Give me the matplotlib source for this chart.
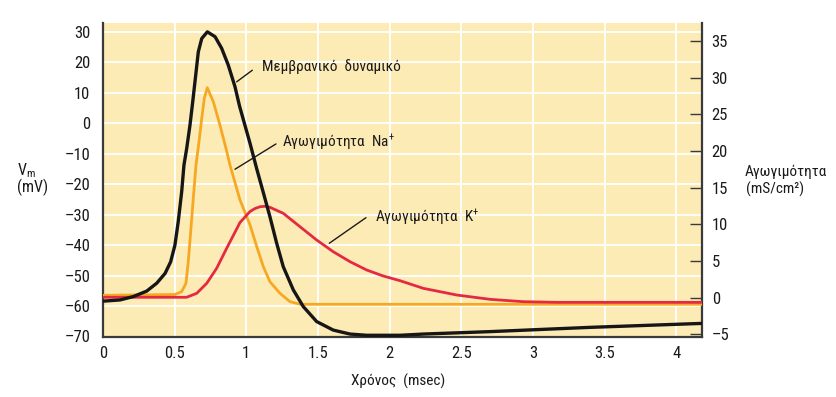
import matplotlib
matplotlib.use("Agg")
import matplotlib.pyplot as plt
import matplotlib.font_manager as fm

# ---- data ----
# Membrane potential (left axis, mV)
t_vm = [0.000, 0.119, 0.211, 0.305, 0.375, 0.433, 0.472, 0.502, 0.525, 0.549,
        0.565, 0.584, 0.607, 0.626, 0.647, 0.665, 0.689, 0.728, 0.782, 0.828,
        0.874, 0.921, 0.953, 1.026, 1.073, 1.119, 1.165, 1.212, 1.258, 1.328,
        1.398, 1.491, 1.607, 1.724, 1.840, 2.073, 2.235, 2.701, 3.399, 4.180]
vm = [-58.4, -58.0, -56.9, -55.1, -52.5, -49.3, -45.5, -40.0, -32.3, -22.5,
      -13.7, -8.3, -0.6, 7.0, 15.8, 23.4, 27.8, 30.0, 28.4, 24.6,
      19.1, 12.0, 5.6, -6.6, -15.0, -22.8, -30.7, -39.4, -47.1, -54.7,
      -60.2, -65.1, -67.9, -69.2, -69.6, -69.6, -69.2, -68.4, -67.0, -65.7]

# Na+ conductance (right axis, mS/cm^2)
t_na = [0.000, 0.502, 0.549, 0.579, 0.595, 0.612, 0.630, 0.649, 0.670, 0.689,
        0.707, 0.728, 0.770, 0.816, 0.858, 0.886, 0.956, 1.026, 1.073, 1.119,
        1.165, 1.235, 1.305, 1.375, 4.180]
g_na = [0.32, 0.43, 0.81, 1.96, 4.90, 8.99, 13.55, 18.09, 21.27, 24.46,
        27.19, 28.63, 26.72, 23.54, 20.37, 18.09, 13.32, 9.91, 6.95, 4.22,
        2.17, 0.59, -0.55, -0.91, -0.91]

# K+ conductance (right axis, mS/cm^2)
t_k = [0.000, 0.584, 0.654, 0.724, 0.793, 0.863, 0.956, 1.026, 1.061, 1.096,
       1.130, 1.165, 1.258, 1.375, 1.491, 1.607, 1.724, 1.840, 1.956, 2.073,
       2.235, 2.468, 2.701, 2.933, 3.166, 3.399, 4.180]
g_k = [0.05, 0.05, 0.59, 1.96, 4.00, 6.73, 10.25, 11.75, 12.16, 12.40,
       12.46, 12.32, 11.50, 9.67, 7.86, 6.26, 4.90, 3.77, 2.95, 2.31,
       1.27, 0.36, -0.23, -0.55, -0.64, -0.64, -0.64]

x_ticks = [0, 0.5, 1, 1.5, 2, 2.5, 3, 3.5, 4]
x_ticklabels = ["0", "0.5", "1", "1.5", "2", "2.5", "3", "3.5", "4"]
vm_ticks = [-70, -60, -50, -40, -30, -20, -10, 0, 10, 20, 30]
g_ticks = [-5, 0, 5, 10, 15, 20, 25, 30, 35]


# ---- font: prefer a condensed sans if one is installed ----
def pick_font():
    ttf = fm.fontManager.ttflist
    names = {f.name for f in ttf}
    for p in ["Liberation Sans Narrow", "Roboto Condensed", "Open Sans Condensed",
              "Noto Sans Condensed", "DejaVu Sans Condensed", "Inter Condensed"]:
        if p in names:
            return p, "normal", True
    for fam in ["Roboto", "Noto Sans", "Open Sans", "DejaVu Sans", "Liberation Sans"]:
        for f in ttf:
            st = f.stretch
            cond = (isinstance(st, str) and "condensed" in st) or \
                   (isinstance(st, (int, float)) and st < 500)
            if f.name == fam and cond and f.weight in (400, "normal", "regular", 500, "medium"):
                return fam, st, True
    return "Liberation Sans", "normal", False


FAM, STRETCH, CONDENSED = pick_font()
plt.rcParams["font.family"] = [FAM, "DejaVu Sans"]
plt.rcParams["font.stretch"] = STRETCH
FS_TICK = 12 if CONDENSED else 11.2
FS_TXT = 11 if CONDENSED else 10.4

BG = "#FDEBB5"
C_BLACK = "#161616"
C_NA = "#F7A823"
C_K = "#E42A43"
SPINE = "#3a3a3a"
TXT = "#1a1a1a"

fig = plt.figure(figsize=(8.37, 3.97), dpi=100)
ax = fig.add_axes([103 / 837, 1 - 336.5 / 397, (702 - 103) / 837, (336.5 - 22.7) / 397])
ax2 = ax.twinx()

ax.set_facecolor(BG)
ax.set_xlim(0, 4.18)
ax.set_ylim(-70, 33)

ax.set_xticks(x_ticks)
ax.set_xticklabels(x_ticklabels)
ax.set_yticks(vm_ticks)
ax.set_yticklabels([str(v).replace("-", "\u2013") for v in vm_ticks])
ax2.set_yticks(g_ticks)
ax2.set_yticklabels([str(v).replace("-", "\u2013") for v in g_ticks])

ax.grid(True, color="white", lw=1.3)
ax.set_axisbelow(True)

ax.tick_params(axis="both", length=0, labelsize=FS_TICK, colors=TXT)
ax.tick_params(axis="y", pad=9)
ax.tick_params(axis="x", pad=7)
ax2.tick_params(axis="y", direction="in", length=8.5, width=1.0, color=SPINE,
                labelsize=FS_TICK, pad=7, labelcolor=TXT)

for s in ["top", "right"]:
    ax.spines[s].set_visible(False)
for s in ["top", "left", "bottom"]:
    ax2.spines[s].set_visible(False)
for a, nm in ((ax, ["left", "bottom"]), (ax2, ["right"])):
    for s in nm:
        a.spines[s].set_color(SPINE)
        a.spines[s].set_linewidth(1.6)

# curves (the membrane potential uses the left-axis scale but is drawn on top)
ax2.plot(t_na, g_na, color=C_NA, lw=2.0, solid_joinstyle="round", solid_capstyle="round", zorder=3)
ax2.plot(t_k, g_k, color=C_K, lw=2.0, solid_joinstyle="round", solid_capstyle="round", zorder=3)
ax2.plot(t_vm, vm, color=C_BLACK, lw=2.4, solid_joinstyle="round", zorder=4,
         transform=ax.transData)
ax2.set_ylim(-5.3, 37.5)
ax2.set_xlim(0, 4.18)

# annotations (left-axis data coordinates)
lead = dict(arrowstyle="-", lw=1.0, color=TXT, shrinkA=0, shrinkB=0)
for (x0, y0), (x1, y1) in [((0.933, 13.6), (1.042, 17.4)),
                           ((0.921, -15.1), (1.207, -6.8)),
                           ((1.579, -39.4), (1.835, -31.0))]:
    ax2.annotate("", xy=(x0, y0), xytext=(x1, y1), xycoords=ax.transData,
                 textcoords=ax.transData, arrowprops=lead)

ax2.text(1.107, 17.2, "Μεμβρανικό  δυναμικό", transform=ax.transData,
         fontsize=FS_TXT, va="baseline", ha="left", color=TXT)
ax2.text(1.247, -7.8, r"Αγωγιμότητα  Na$^{\mathregular{+}}$", transform=ax.transData,
         fontsize=FS_TXT, va="baseline", ha="left", color=TXT)
ax2.text(1.898, -32.3, r"Αγωγιμότητα  K$^{\mathregular{+}}$", transform=ax.transData,
         fontsize=FS_TXT, va="baseline", ha="left", color=TXT)

# axis labels
fig.text(17 / 837, 1 - 175 / 397, r"$\mathregular{V_m}$", fontsize=FS_TXT + 0.5, va="baseline",
         ha="left", color=TXT)
fig.text(17 / 837, 1 - 192 / 397, "(mV)", fontsize=FS_TXT + 0.5, va="baseline", ha="left", color=TXT)
fig.text(745 / 837, 1 - 176 / 397, "Αγωγιμότητα", fontsize=FS_TXT, va="baseline", ha="left", color=TXT)
fig.text(746 / 837, 1 - 194 / 397, "(mS/cm\u00b2)", fontsize=FS_TXT, va="baseline", ha="left", color=TXT)
fig.text(398 / 837, 1 - 386 / 397, "Χρόνος  (msec)", fontsize=FS_TXT, va="baseline", ha="center", color=TXT)

fig.savefig("out.png", dpi=100)
